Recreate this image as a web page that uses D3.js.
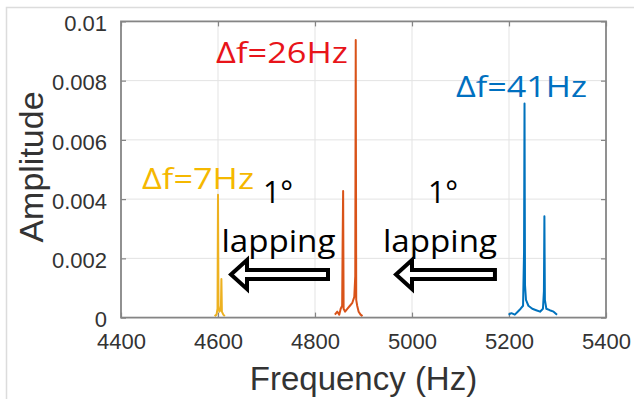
<!DOCTYPE html>
<html><head><meta charset="utf-8">
<script src="https://cdn.jsdelivr.net/npm/d3@7"></script>
<style>body{margin:0;background:#fff} svg{display:block}</style>
</head><body><svg id="c" width="634" height="399"></svg>
<script>
// ---- data ----
const xTicks = [4400, 4600, 4800, 5000, 5200, 5400];
const yTicks = [0, 0.002, 0.004, 0.006, 0.008, 0.01];
const yTickLabels = ["0", "0.002", "0.004", "0.006", "0.008", "0.01"];

const yellowFreq = [4593, 4597, 4599, 4600, 4601, 4603, 4606, 4607, 4608, 4611, 4614];
const yellowAmp  = [0.00005, 0.0001, 0.0003, 0.00415, 0.0004, 0.0002, 0.0003, 0.0013, 0.0002, 0.0001, 0.00005];

const orangeFreq = [4841, 4846, 4850, 4853, 4856, 4857, 4858, 4859, 4862, 4867, 4872, 4877, 4881, 4883, 4884, 4885, 4887, 4890, 4894, 4898];
const orangeAmp  = [0.0001, 0.0002, 0.0001, 0.0003, 0.0004, 0.0026, 0.00427, 0.0003, 0.0002, 0.0003, 0.0004, 0.0005, 0.0007, 0.0014, 0.00937, 0.0006, 0.0004, 0.0002, 0.0001, 0.00005];

const blueFreq = [5199, 5205, 5212, 5218, 5224, 5229, 5231, 5232, 5233, 5235, 5240, 5248, 5256, 5264, 5270, 5272, 5273, 5274, 5277, 5284, 5292, 5299];
const blueAmp  = [0.0001, 0.00015, 0.0001, 0.0002, 0.0003, 0.0004, 0.0022, 0.00723, 0.0011, 0.0006, 0.0004, 0.0003, 0.00025, 0.0002, 0.0003, 0.0009, 0.00342, 0.0006, 0.0003, 0.00025, 0.0002, 0.0001];

const labelTexts = ["Δf=7Hz", "Δf=26Hz", "Δf=41Hz"];
const labelFreq  = [4443.3, 4595.9, 5090.7];
const labelAmp   = [0.00434, 0.0086, 0.00745];

const noteTexts = ["1°", "lapping", "1°", "lapping"];
const noteFreq  = [4692.8, 4607, 5033, 4940.2];
const noteAmp   = [0.00387, 0.002225, 0.00387, 0.002225];

const arrowTipFreq  = [4626.8, 4967];
const arrowTailFreq = [4826.8, 5171];
const arrowAmp      = [0.001455, 0.001455];

// ---- layout ----
const svg = d3.select("#c");
const L = 121, T = 21.4, W = 485, H = 296.2;
const x = d3.scaleLinear().domain([4400, 5400]).range([L, L + W]);
const y = d3.scaleLinear().domain([0, 0.01]).range([T + H, T]);

// outer frame
svg.append("path").attr("d", `M6.5,399 V7.5 H634`).attr("fill", "none").attr("stroke", "#dcdcdc").attr("stroke-width", 1.5);

// grid
const grid = svg.append("g");
grid.selectAll("line.gx").data(xTicks.slice(1, -1)).join("line")
  .attr("x1", d => x(d)).attr("x2", d => x(d)).attr("y1", T).attr("y2", T + H)
  .attr("stroke", "#e3e3e3").attr("stroke-width", 1);
grid.selectAll("line.gy").data(yTicks.slice(1, -1)).join("line")
  .attr("y1", d => y(d)).attr("y2", d => y(d)).attr("x1", L).attr("x2", L + W)
  .attr("stroke", "#e3e3e3").attr("stroke-width", 1);

// axes
const axColor = "#858585";
function styleAxis(g) {
  g.select(".domain").remove();
  g.selectAll(".tick line").attr("stroke", axColor).attr("stroke-width", 1.2);
  g.selectAll(".tick text").attr("fill", "#333").attr("font-family", "Liberation Sans, Arial, sans-serif").attr("font-size", 22);
}
svg.append("g").attr("transform", `translate(0,${T + H})`)
  .call(d3.axisBottom(x).tickValues(xTicks).tickFormat(d3.format("d")).tickSizeInner(-5).tickSizeOuter(0).tickPadding(16))
  .call(styleAxis);
svg.append("g").attr("transform", `translate(0,${T})`)
  .call(d3.axisTop(x).tickValues(xTicks).tickFormat("").tickSizeInner(-5).tickSizeOuter(0))
  .call(styleAxis);
svg.append("g").attr("transform", `translate(${L},0)`)
  .call(d3.axisLeft(y).tickValues(yTicks).tickFormat((d, i) => yTickLabels[i]).tickSizeInner(-5).tickSizeOuter(0).tickPadding(14))
  .call(styleAxis)
  .selectAll(".tick text").attr("dy", "0.42em");
svg.append("g").attr("transform", `translate(${L + W},0)`)
  .call(d3.axisRight(y).tickValues(yTicks).tickFormat("").tickSizeInner(-5).tickSizeOuter(0))
  .call(styleAxis);

// series
const line = d3.line().x(d => x(d[0])).y(d => y(d[1]));
const series = [
  {f: yellowFreq, a: yellowAmp, c: "#EDB120"},
  {f: orangeFreq, a: orangeAmp, c: "#D95319"},
  {f: blueFreq, a: blueAmp, c: "#0072BD"}
];
series.forEach(s => {
  svg.append("path").datum(s.f.map((f, i) => [f, s.a[i]]))
    .attr("d", line).attr("fill", "none").attr("stroke", s.c).attr("stroke-width", 2).attr("stroke-linejoin", "round");
});

// box
svg.append("rect").attr("x", L).attr("y", T).attr("width", W).attr("height", H)
  .attr("fill", "none").attr("stroke", axColor).attr("stroke-width", 1.8);

// axis labels
svg.append("text").attr("x", L + W / 2).attr("y", 390).attr("text-anchor", "middle")
  .attr("font-family", "Liberation Sans, Arial, sans-serif").attr("font-size", 33).attr("fill", "#333")
  .text("Frequency (Hz)");
svg.append("text").attr("transform", `translate(43,${(87 + 247) / 2}) rotate(-90)`).attr("text-anchor", "middle")
  .attr("font-family", "Liberation Sans, Arial, sans-serif").attr("font-size", 34).attr("fill", "#333")
  .text("Amplitude");

// Δf labels
const labelColors = ["#F5B800", "#E8141A", "#0070C0"];
const labelLens = [112, 132, 131];
labelTexts.forEach((t, i) => {
  svg.append("text").attr("x", x(labelFreq[i])).attr("y", y(labelAmp[i]))
    .attr("font-family", "Open Sans, sans-serif").attr("font-size", 30).attr("fill", labelColors[i])
    .attr("textLength", labelLens[i]).attr("lengthAdjust", "spacingAndGlyphs")
    .text(t);
});

// notes
const noteLens = [30, 114, 30, 114];
noteTexts.forEach((t, i) => {
  svg.append("text").attr("x", x(noteFreq[i])).attr("y", y(noteAmp[i]))
    .attr("font-family", "Open Sans, sans-serif").attr("font-size", 31).attr("fill", "#000")
    .attr("textLength", noteLens[i]).attr("lengthAdjust", "spacingAndGlyphs")
    .text(t);
});

// block arrows
arrowTipFreq.forEach((tf, i) => {
  const tx = x(tf), ex = x(arrowTailFreq[i]), cy = y(arrowAmp[i]);
  const hl = 16, hh = 14.5, sh = 4.5;
  const pts = [[tx, cy], [tx + hl, cy - hh], [tx + hl, cy - sh], [ex, cy - sh], [ex, cy + sh], [tx + hl, cy + sh], [tx + hl, cy + hh]];
  svg.append("polygon").attr("points", pts.map(p => p.join(",")).join(" "))
    .attr("fill", "#fff").attr("stroke", "#000").attr("stroke-width", 4).attr("stroke-linejoin", "miter");
});
</script></body></html>
